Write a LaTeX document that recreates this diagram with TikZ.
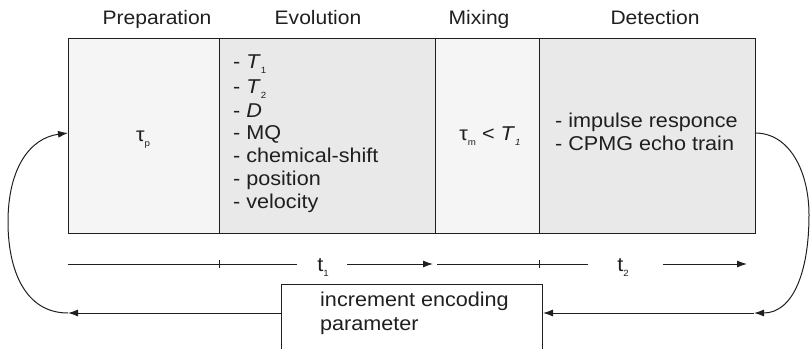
\documentclass[tikz,border=0pt]{standalone}
\usepackage{fontspec}
\setmainfont{Liberation Sans}[FakeStretch=1.08]
\usetikzlibrary{arrows.meta}
% small lowered index, as used for T_1, tau_p, ...
\newcommand\lowidx[1]{\raisebox{-0.5ex}{\fontsize{9}{9}\selectfont #1}}
\begin{document}
\begin{tikzpicture}[x=1pt,y=-1pt,
  font=\fontsize{20}{23}\selectfont,
  ink/.style={draw=black!88, line width=1pt},
  phase/.style={ink, anchor=north west, minimum height=195pt, inner sep=0pt},
  lite/.style={phase, fill=black!4},
  shade/.style={phase, fill=black!8.5},
  txt/.style={anchor=base, inner sep=0pt, text=black!88},
  txtl/.style={anchor=base west, inner sep=0pt, text=black!88},
  title/.style={txt, font=\fontsize{19.5}{23}\selectfont},
  arr/.style={ink, -{Latex[length=10pt,width=7pt]}}]
\useasboundingbox (0,0) rectangle (811,348);
\clip (0,0) rectangle (811,348);

% phase titles
\node[title] (hPrep) at (157,24) {Preparation};
\node[title] (hEvol) at (318,24) {Evolution};
\node[title] (hMix)  at (479,24) {Mixing};
\node[title] (hDet)  at (655,24) {Detection};

% the four phases
\node[lite,  minimum width=151pt] (prep) at (68,38)  {};
\node[shade, minimum width=216pt] (evol) at (219,38) {};
\node[lite,  minimum width=104pt] (mix)  at (435,38) {};
\node[shade, minimum width=216pt] (det)  at (539,38) {};

% phase contents
\node[txt] (taup) at (143,141) {τ\lowidx{p}};
\node[txtl] (ev1) at (233,68)  {- \textit{T}\lowidx{1}};
\node[txtl] (ev2) at (233,93)  {- \textit{T}\lowidx{2}};
\node[txtl] (ev3) at (233,117) {- \textit{D}};
\node[txtl] (ev4) at (233,139) {- MQ};
\node[txtl] (ev5) at (233,162) {- chemical-shift};
\node[txtl] (ev6) at (233,185) {- position};
\node[txtl] (ev7) at (233,208) {- velocity};
\node[txt] (taum) at (490,140) {τ\lowidx{m} < \textit{T}\lowidx{\itshape 1}};
\node[txtl] (det1) at (555,127) {- impulse responce};
\node[txtl] (det2) at (555,150) {- CPMG echo train};

% time axis
\node[txt] (t1) at (323,271) {t\lowidx{1}};
\node[txt] (t2) at (623,271) {t\lowidx{2}};
\coordinate (a0) at (68,264);
\coordinate (a1) at (297,264);
\coordinate (a2) at (347,264);
\coordinate (a3) at (433,264);
\coordinate (b0) at (437,264);
\coordinate (b1) at (588,264);
\coordinate (b2) at (663,264);
\coordinate (b3) at (747,264);
\draw[ink] (a0) -- (a1);
\draw[arr] (a2) -- (a3);
\draw[ink] (b0) -- (b1);
\draw[arr] (b2) -- (b3);
\draw[ink] (219,260) -- (219,268);
\draw[ink] (539,260) -- (539,268);

% encoding box
\node[ink, fill=white, anchor=north west, minimum width=261pt, minimum height=80pt, inner sep=0pt] (inc) at (281,284) {};
\node[txtl] (inc1) at (320,306) {increment encoding};
\node[txtl] (inc2) at (320,330) {parameter};

% feedback loop
\coordinate (Lend) at (68,313);
\coordinate (Lin)  at (68,133);
\coordinate (Rout) at (755,133);
\coordinate (Rend) at (754,313);
\draw[arr] (inc.west |- Lend) -- (Lend);
\draw[arr] (Lend) .. controls (25,313) and (8,270) .. (8,222)
                  .. controls (8,168) and (30,138) .. (Lin);
\draw[arr] (Rout) .. controls (790,133) and (809,172) .. (809,215)
                  .. controls (809,272) and (793,313) .. (Rend);
\draw[arr] (Rend) -- (inc.east |- Rend);
\end{tikzpicture}
\end{document}
